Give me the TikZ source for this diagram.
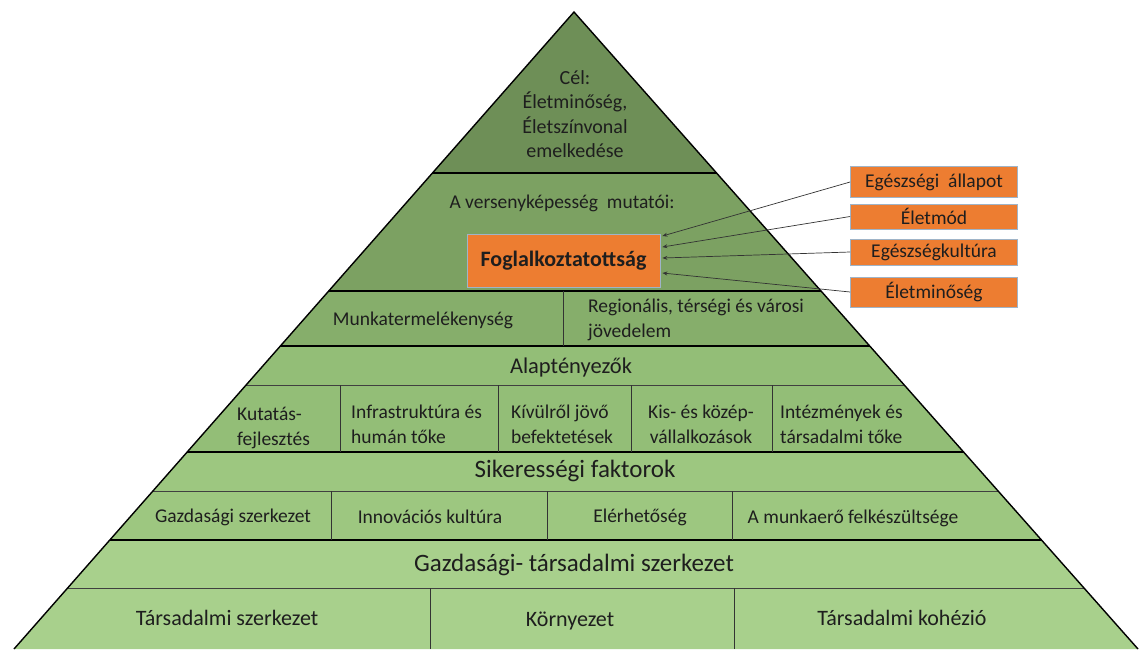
\documentclass[tikz,border=0pt]{standalone}
\usepackage{fontspec}
\setmainfont{Carlito}
\usetikzlibrary{calc,arrows.meta}
\definecolor{gA}{HTML}{6E8F57}
\definecolor{gB}{HTML}{7CA162}
\definecolor{gC}{HTML}{86AE6B}
\definecolor{gD}{HTML}{93BE77}
\definecolor{gE}{HTML}{9DC780}
\definecolor{gF}{HTML}{A8D08C}
\definecolor{orng}{HTML}{ED7D31}
\definecolor{oedge}{HTML}{9FB4C8}
\definecolor{txt}{HTML}{1E1E1E}
\begin{document}
\begin{tikzpicture}[x=1pt,y=-1pt,
  txtnode/.style={inner sep=0pt, text=txt, font=\fontsize{19.5}{25}\selectfont},
  bigtxt/.style={inner sep=0pt, text=txt, font=\fontsize{25}{30}\selectfont},
  midtxt/.style={inner sep=0pt, text=txt, font=\fontsize{22}{27}\selectfont},
  obox/.style={draw=oedge, line width=0.8pt, fill=orng, minimum width=167pt, inner sep=0pt, text=txt, font=\fontsize{19.5}{24}\selectfont},
  fogbox/.style={draw=oedge, line width=0.8pt, fill=orng, minimum width=193pt, minimum height=53pt, inner sep=0pt, text=txt, font=\bfseries\fontsize{22}{26}\selectfont},
  heavy/.style={line width=1.8pt, black},
  light/.style={line width=0.8pt, black!75},
  divider/.style={line width=0.8pt, black!80},
  conn/.style={line width=0.7pt, black!80, -{Stealth[length=5pt,width=4pt]}}
]
\useasboundingbox (0,0) rectangle (1146,649);
\clip (0,0) rectangle (1146,649);
\coordinate (A) at (574,12);
\coordinate (L) at (14,649);
\coordinate (R) at (1138,649);
\foreach \n/\y in {a/173,b/291,c/346,d/385,e/452,f/491,g/540,h/588} {
  \coordinate (\n-l) at ($(A)!{(\y-12)/637}!(L)$);
  \coordinate (\n-r) at ($(A)!{(\y-12)/637}!(R)$);
}
% bands
\fill[gA] (A) -- (a-r) -- (a-l) -- cycle;
\fill[gB] (a-l) -- (a-r) -- (b-r) -- (b-l) -- cycle;
\fill[gC] (b-l) -- (b-r) -- (c-r) -- (c-l) -- cycle;
\fill[gD] (c-l) -- (c-r) -- (e-r) -- (e-l) -- cycle;
\fill[gE] (e-l) -- (e-r) -- (g-r) -- (g-l) -- cycle;
\fill[gF] (g-l) -- (g-r) -- (R) -- (L) -- cycle;
% horizontal lines
\draw[heavy] (a-l) -- (a-r);
\draw[heavy] (b-l) -- (b-r);
\draw[heavy] (c-l) -- (c-r);
\draw[light] (d-l) -- (d-r);
\draw[heavy] (e-l) -- (e-r);
\draw[light] (f-l) -- (f-r);
\draw[heavy] (g-l) -- (g-r);
\draw[light] (h-l) -- (h-r);
% vertical dividers
\draw[divider] (563,291) -- (563,346);
\foreach \x in {340,498,631,772} \draw[divider] (\x,385) -- (\x,452);
\foreach \x in {331,547,732} \draw[divider] (\x,491) -- (\x,540);
\foreach \x in {430,734} \draw[divider] (\x,588) -- (\x,649);
% outline
\draw[line width=1.4pt, line join=miter] (L) -- (A) -- (R);
% texts
\node[txtnode, align=center, font=\fontsize{20}{24.5}\selectfont] (goal) at (575,114) {Cél:\\Életminőség,\\Életszínvonal\\emelkedése};
\node[txtnode] (vers) at (562,203) {A versenyképesség~ mutatói:};
\node[fogbox] (fog) at (563.5,260.5) {Foglalkoztatottság};
\node[txtnode] (munka) at (423,320) {Munkatermelékenység};
\node[txtnode, anchor=west, align=left] (regio) at (588,320) {Regionális, térségi és városi\\jövedelem};
\node[midtxt, font=\fontsize{22.5}{27}\selectfont] (alap) at (571,367) {Alaptényezők};
\node[txtnode, anchor=west, align=left] (kut) at (237,428) {Kutatás-\\fejlesztés};
\node[txtnode, anchor=west, align=left] (infra) at (351,424) {Infrastruktúra és\\humán tőke};
\node[txtnode, anchor=west, align=left] (kivul) at (511,424) {Kívülről jövő\\befektetések};
\node[txtnode, align=center] (kkv) at (701,424) {Kis- és közép-\\vállalkozások};
\node[txtnode, anchor=west, align=left] (intez) at (780,424) {Intézmények és\\társadalmi tőke};
\node[bigtxt] (siker) at (575,471) {Sikerességi faktorok};
\node[txtnode] (gsz) at (233,517) {Gazdasági szerkezet};
\node[txtnode] (inno) at (430,517) {Innovációs kultúra};
\node[txtnode] (eler) at (640,517) {Elérhetőség};
\node[txtnode] (mero) at (853,518) {A munkaerő felkészültsége};
\node[bigtxt] (gtsz) at (574,565) {Gazdasági- társadalmi szerkezet};
\node[midtxt] (tsz) at (227,618) {Társadalmi szerkezet};
\node[midtxt] (korny) at (570,621) {Környezet};
\node[midtxt] (tkoh) at (902,618) {Társadalmi kohézió};
% side boxes
\node[obox, minimum height=31pt] (e1) at (934,182) {Egészségi~ állapot};
\node[obox, minimum height=25pt] (e2) at (934,216.5) {Életmód};
\node[obox, minimum height=26pt] (e3) at (934,252) {Egészségkultúra};
\node[obox, minimum height=30pt] (e4) at (934,292) {Életminőség};
\coordinate (t1) at ([xshift=2pt,yshift=24.5pt]fog.east);
\coordinate (t2) at ([xshift=2pt,yshift=13.5pt]fog.east);
\coordinate (t3) at ([xshift=2pt,yshift=2.5pt]fog.east);
\coordinate (t4) at ([xshift=2pt,yshift=-12.5pt]fog.east);
\draw[conn] (e1.west) -- (t1);
\draw[conn] (e2.west) -- (t2);
\draw[conn] (e3.west) -- (t3);
\draw[conn] (e4.west) -- (t4);
\end{tikzpicture}
\end{document}
